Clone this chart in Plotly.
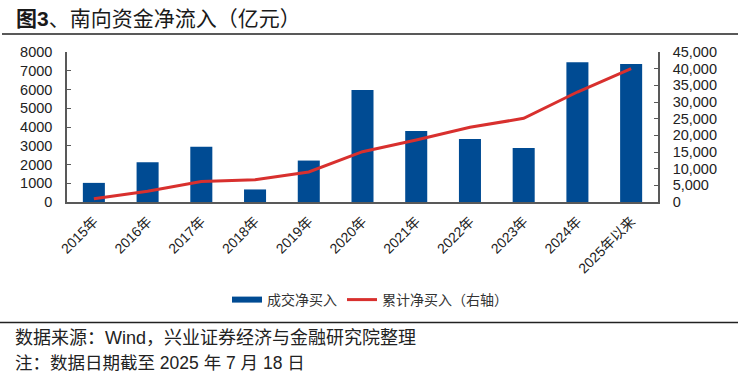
import plotly.graph_objects as go

categories = ["2015年", "2016年", "2017年", "2018年", "2019年", "2020年",
              "2021年", "2022年", "2023年", "2024年", "2025年以来"]
net_buy = [1020, 2120, 2950, 670, 2210, 5980, 3790, 3360, 2880, 7450, 7360]
cumulative = [1000, 3200, 6150, 6700, 9000, 15100, 18600, 22400, 25100, 33000, 40000]

BLUE = "#004B93"
RED = "#D8302E"
FONT = "Liberation Sans, Arial, Noto Sans CJK SC, sans-serif"

W, H = 738, 378
L, R, T, B = 67, 658, 52, 202  # plot area in pixels


def px(x):
    return (x - L) / (R - L)


def py(y):
    return (B - y) / (B - T)


fig = go.Figure()
fig.add_trace(go.Bar(x=categories, y=net_buy, marker_color=BLUE, marker_line_width=0,
                     name="成交净买入", showlegend=False, yaxis="y"))
# legend entry drawn as a wide bar-like line
fig.add_trace(go.Scatter(x=[None], y=[None], mode="lines", line=dict(color=BLUE, width=6),
                         name="成交净买入", showlegend=True, yaxis="y"))
fig.add_trace(go.Scatter(x=categories, y=cumulative, mode="lines",
                         line=dict(color=RED, width=3), name="累计净买入（右轴）",
                         yaxis="y2"))

fig.update_layout(
    width=W, height=H,
    margin=dict(l=L, r=W - R, t=T, b=H - B, pad=0),
    paper_bgcolor="white", plot_bgcolor="white",
    font=dict(family=FONT, size=14, color="#222222"),
    bargap=0.59,
    showlegend=True,
    legend=dict(orientation="h", x=px(370), y=py(300), xanchor="center", yanchor="middle",
                font=dict(size=14, color="#333333"), itemwidth=30,
                bgcolor="rgba(0,0,0,0)", tracegroupgap=0),
    xaxis=dict(type="category", showline=True, linecolor="#595959", linewidth=1.5,
               ticks="", tickangle=-45, tickfont=dict(size=14),
               showgrid=False, zeroline=False, automargin=False,
               ticklabelstandoff=4),
    yaxis=dict(range=[0, 8000], dtick=1000, showline=True, linecolor="#595959",
               linewidth=1.5, ticks="inside", ticklen=4, tickcolor="#595959",
               showgrid=False, zeroline=False, tickfont=dict(size=14.5),
               ticklabelstandoff=10, automargin=False),
    yaxis2=dict(range=[0, 45000], dtick=5000, overlaying="y", side="right",
                tickformat=",", showline=True, linecolor="#595959", linewidth=1.5,
                ticks="inside", ticklen=4, tickcolor="#595959",
                showgrid=False, zeroline=False, tickfont=dict(size=14.5),
                ticklabelstandoff=10, automargin=False),
)

fig.add_annotation(text="<b>图3</b>、南向资金净流入（亿元）", xref="paper", yref="paper",
                   x=px(14), y=py(18.5), xanchor="left", yanchor="middle",
                   showarrow=False, font=dict(size=21, color="#1a1a1a"))
fig.add_annotation(text="数据来源：Wind，兴业证券经济与金融研究院整理", xref="paper", yref="paper",
                   x=px(13), y=py(338), xanchor="left", yanchor="middle",
                   showarrow=False, font=dict(size=18, color="#222222"))
fig.add_annotation(text="注：数据日期截至 2025 年 7 月 18 日", xref="paper", yref="paper",
                   x=px(13), y=py(363), xanchor="left", yanchor="middle",
                   showarrow=False, font=dict(size=17.5, color="#222222"))

fig.add_shape(type="line", xref="paper", yref="paper", x0=px(2), x1=px(738),
              y0=py(34), y1=py(34), line=dict(color="#222222", width=1.5))
fig.add_shape(type="line", xref="paper", yref="paper", x0=px(0), x1=px(738),
              y0=py(322.5), y1=py(322.5), line=dict(color="#222222", width=1.5))

fig.write_html("out.html", config={"displayModeBar": False},
               post_script="document.body.style.margin='0';document.body.style.padding='0';")
